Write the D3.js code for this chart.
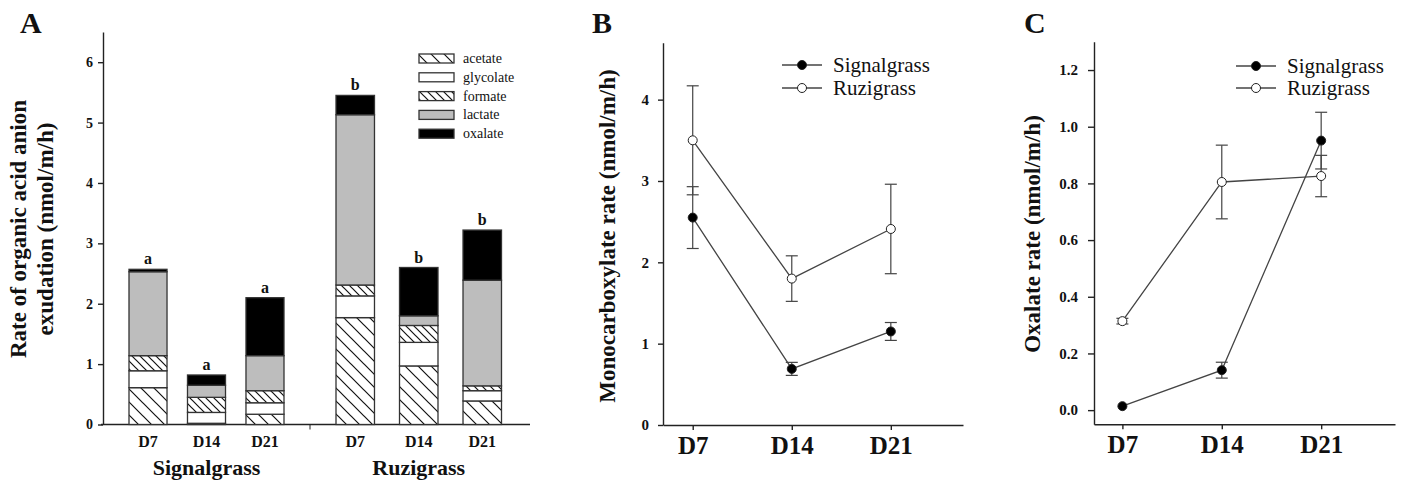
<!DOCTYPE html>
<meta charset="utf-8"/>
<html>
<head>
<script src="https://d3js.org/d3.v7.min.js"></script>
<style>
  body { margin: 0; background: #fff; }
  svg text { font-family: "Liberation Serif", "Times New Roman", serif; fill: #111; }
  .axis path, .axis line { stroke: #222; stroke-width: 1.4; }
</style>
</head>
<body>
<div id="chart"></div>
<script>
// ---- data ----
const days = ["D7", "D14", "D21"];
const dayNums = [7, 14, 21];
const grasses = ["Signalgrass", "Ruzigrass"];
const anions = ["acetate", "glycolate", "formate", "lactate", "oxalate"];

// rows = D7, D14, D21 ; cols = acetate, glycolate, formate, lactate, oxalate
const signalExudation = [
  [0.61, 0.28, 0.25, 1.39, 0.04],
  [0.02, 0.18, 0.25, 0.20, 0.17],
  [0.17, 0.19, 0.20, 0.58, 0.96]
];
const ruziExudation = [
  [1.77, 0.36, 0.18, 2.82, 0.32],
  [0.97, 0.39, 0.28, 0.16, 0.80],
  [0.39, 0.17, 0.08, 1.75, 0.83]
];
const signalLetters = ["a", "a", "a"];
const ruziLetters = ["b", "b", "b"];

// panel B: monocarboxylate rate, mean and SE
const signalMono = [2.55, 0.69, 1.15];
const signalMonoErr = [0.38, 0.08, 0.11];
const ruziMono = [3.50, 1.80, 2.41];
const ruziMonoErr = [0.67, 0.28, 0.55];

// panel C: oxalate rate, mean and SE
const signalOx = [0.014, 0.141, 0.951];
const signalOxErr = [0.0, 0.028, 0.10];
const ruziOx = [0.314, 0.805, 0.826];
const ruziOxErr = [0.01, 0.13, 0.073];

const yTicksA = [0, 1, 2, 3, 4, 5, 6];
const yTicksB = [0, 1, 2, 3, 4];
const yTicksC = [0, 0.2, 0.4, 0.6, 0.8, 1.0, 1.2];

const W = 1403, H = 481;
const svg = d3.select("#chart").append("svg").attr("width", W).attr("height", H);

// hatch patterns
const defs = svg.append("defs");
function hatch(id, s) {
  const p = defs.append("pattern").attr("id", id)
    .attr("patternUnits", "userSpaceOnUse").attr("width", s).attr("height", s);
  p.append("rect").attr("width", s).attr("height", s).attr("fill", "#fff");
  p.append("path")
    .attr("d", `M0,0L${s},${s}M${-2},${s - 2}L2,${s + 2}M${s - 2},-2L${s + 2},2`)
    .attr("stroke", "#111").attr("stroke-width", 1.2);
}
hatch("hatchAcetate", 13);
hatch("hatchFormate", 8);
const fills = {
  acetate: "url(#hatchAcetate)",
  glycolate: "#fff",
  formate: "url(#hatchFormate)",
  lactate: "#bdbdbd",
  oxalate: "#000"
};

function panelLetter(x, t) {
  svg.append("text").attr("x", x).attr("y", 33)
    .style("font-size", "30px").style("font-weight", "bold").text(t);
}
function styleTicks(g, size) {
  g.attr("font-family", null).attr("font-size", null);
  g.selectAll("text").style("font-size", size).style("font-weight", "bold");
}

// ================= Panel A =================
const gA = svg.append("g");
const yA = d3.scaleLinear().domain([0, 6.5]).range([424.5, 32]);
const xSignal = d3.scaleBand().domain(days).range([129, 284]).paddingInner(0.35).paddingOuter(0);
const xRuzi = d3.scaleBand().domain(days).range([336, 501.5]).paddingInner(0.394).paddingOuter(0);

gA.append("g").attr("class", "axis").attr("transform", "translate(103,0)")
  .call(d3.axisLeft(yA).tickValues(yTicksA).tickFormat(d3.format("d"))
    .tickSize(5).tickSizeOuter(0).tickPadding(5))
  .call(g => styleTicks(g, "14px"));
// x axis line with a divider tick between groups
gA.append("line").attr("x1", 101).attr("x2", 530).attr("y1", yA(0)).attr("y2", yA(0))
  .attr("stroke", "#222").attr("stroke-width", 1.4);
gA.append("line").attr("x1", 310).attr("x2", 310).attr("y1", yA(0)).attr("y2", yA(0) + 5)
  .attr("stroke", "#222").attr("stroke-width", 1);

const stack = d3.stack().keys(d3.range(anions.length));
function drawBars(data, xs, letters, groupName) {
  const series = stack(data);
  series.forEach((s, k) => {
    gA.selectAll(null).data(s).join("rect")
      .attr("x", (d, i) => xs(days[i]))
      .attr("width", xs.bandwidth())
      .attr("y", d => yA(d[1]))
      .attr("height", d => yA(d[0]) - yA(d[1]))
      .attr("fill", fills[anions[k]])
      .attr("stroke", "#333").attr("stroke-width", 1.3);
  });
  const top = series[series.length - 1];
  gA.selectAll(null).data(top).join("text")
    .attr("x", (d, i) => xs(days[i]) + xs.bandwidth() / 2)
    .attr("y", d => yA(d[1]) - 5)
    .attr("text-anchor", "middle")
    .style("font-size", "16px").style("font-weight", "bold")
    .text((d, i) => letters[i]);
  gA.selectAll(null).data(days).join("text")
    .attr("x", d => xs(d) + xs.bandwidth() / 2)
    .attr("y", 447)
    .attr("text-anchor", "middle")
    .style("font-size", "16px").style("font-weight", "bold")
    .text(d => d);
  const r = xs.range();
  gA.append("text").attr("x", (r[0] + r[1]) / 2).attr("y", 475)
    .attr("text-anchor", "middle")
    .style("font-size", "22px").style("font-weight", "bold")
    .text(groupName);
}
drawBars(signalExudation, xSignal, signalLetters, grasses[0]);
drawBars(ruziExudation, xRuzi, ruziLetters, grasses[1]);

// legend A
const legA = gA.append("g");
anions.forEach((a, i) => {
  const y = 54 + i * 18.8;
  legA.append("rect").attr("x", 419).attr("y", y).attr("width", 35).attr("height", 9)
    .attr("fill", fills[a]).attr("stroke", "#333").attr("stroke-width", 1.3);
  legA.append("text").attr("x", 463).attr("y", y + 4.5)
    .attr("dominant-baseline", "central").style("font-size", "14px").text(a);
});

// y label A (two lines)
[["Rate of organic acid anion", 18], ["exudation (nmol/m/h)", 45]].forEach(([t, x]) => {
  gA.append("text").attr("transform", `translate(${x},229) rotate(-90)`)
    .attr("text-anchor", "middle").attr("dominant-baseline", "central")
    .style("font-size", "23px").style("font-weight", "bold").text(t);
});
panelLetter(20, "A");

// ================= line panels =================
function linePanel(cfg) {
  const g = svg.append("g");
  const x = d3.scaleLinear().domain(cfg.xDomain).range(cfg.xRange);
  const y = d3.scaleLinear().domain(cfg.yDomain).range(cfg.yRange);

  g.append("g").attr("class", "axis").attr("transform", `translate(${cfg.xRange[0]},0)`)
    .call(d3.axisLeft(y).tickValues(cfg.yTicks).tickFormat(cfg.yFormat)
      .tickSize(cfg.tickSize).tickSizeOuter(0).tickPadding(cfg.tickPad))
    .call(gg => styleTicks(gg, cfg.tickFont));
  g.append("g").attr("class", "axis").attr("transform", `translate(0,${cfg.yRange[0]})`)
    .call(d3.axisBottom(x).tickValues(dayNums).tickFormat((d, i) => days[i])
      .tickSize(5).tickSizeOuter(0).tickPadding(6))
    .call(gg => styleTicks(gg, "25px"));

  const series = [
    { v: cfg.ruzi, e: cfg.ruziErr, fill: "#fff" },
    { v: cfg.signal, e: cfg.signalErr, fill: "#000" }
  ];
  const line = d3.line().x((d, i) => x(dayNums[i])).y(d => y(d));
  series.forEach(s => {
    s.v.forEach((m, i) => {
      if (s.e[i] <= 0) return;
      const cx = x(dayNums[i]);
      const eg = g.append("g").attr("stroke", "#444").attr("stroke-width", 1.2);
      eg.append("line").attr("x1", cx).attr("x2", cx).attr("y1", y(m - s.e[i])).attr("y2", y(m + s.e[i]));
      [m - s.e[i], m + s.e[i]].forEach(v => eg.append("line")
        .attr("x1", cx - 6).attr("x2", cx + 6).attr("y1", y(v)).attr("y2", y(v)));
    });
  });
  series.forEach(s => {
    g.append("path").datum(s.v).attr("d", line).attr("fill", "none")
      .attr("stroke", "#444").attr("stroke-width", 1.3);
  });
  series.forEach(s => {
    g.selectAll(null).data(s.v).join("circle")
      .attr("cx", (d, i) => x(dayNums[i])).attr("cy", d => y(d)).attr("r", 4.5)
      .attr("fill", s.fill).attr("stroke", "#222").attr("stroke-width", 1);
  });

  // legend
  [[grasses[0], "#000"], [grasses[1], "#fff"]].forEach(([name, f], i) => {
    const ly = cfg.legY[i];
    g.append("line").attr("x1", cfg.legX).attr("x2", cfg.legX + 40).attr("y1", ly).attr("y2", ly)
      .attr("stroke", "#444").attr("stroke-width", 1.3);
    g.append("circle").attr("cx", cfg.legX + 20).attr("cy", ly).attr("r", 4.5)
      .attr("fill", f).attr("stroke", "#222").attr("stroke-width", 1);
    g.append("text").attr("x", cfg.legX + 51).attr("y", ly).attr("dominant-baseline", "central")
      .style("font-size", "21px").text(name);
  });

  g.append("text").attr("transform", `translate(${cfg.labelX},${cfg.labelY}) rotate(-90)`)
    .attr("text-anchor", "middle").attr("dominant-baseline", "central")
    .style("font-size", "23px").style("font-weight", "bold").text(cfg.label);
}

linePanel({
  xDomain: [4.9, 26.1], xRange: [663, 963],
  yDomain: [0, 4.7], yRange: [425, 42.7],
  yTicks: yTicksB, yFormat: d3.format("d"), tickSize: 5, tickPad: 9, tickFont: "15px",
  signal: signalMono, signalErr: signalMonoErr, ruzi: ruziMono, ruziErr: ruziMonoErr,
  legX: 782, legY: [65, 88],
  label: "Monocarboxylate rate (nmol/m/h)", labelX: 607, labelY: 236
});
panelLetter(592, "B");

linePanel({
  xDomain: [5, 26.2], xRange: [1094, 1395],
  yDomain: [-0.05, 1.3], yRange: [424.3, 41.7],
  yTicks: yTicksC, yFormat: d3.format(".1f"), tickSize: 6, tickPad: 10, tickFont: "15px",
  signal: signalOx, signalErr: signalOxErr, ruzi: ruziOx, ruziErr: ruziOxErr,
  legX: 1236, legY: [66, 88],
  label: "Oxalate rate (nmol/m/h)", labelX: 1032, labelY: 234
});
panelLetter(1024, "C");
</script>
</body>
</html>
